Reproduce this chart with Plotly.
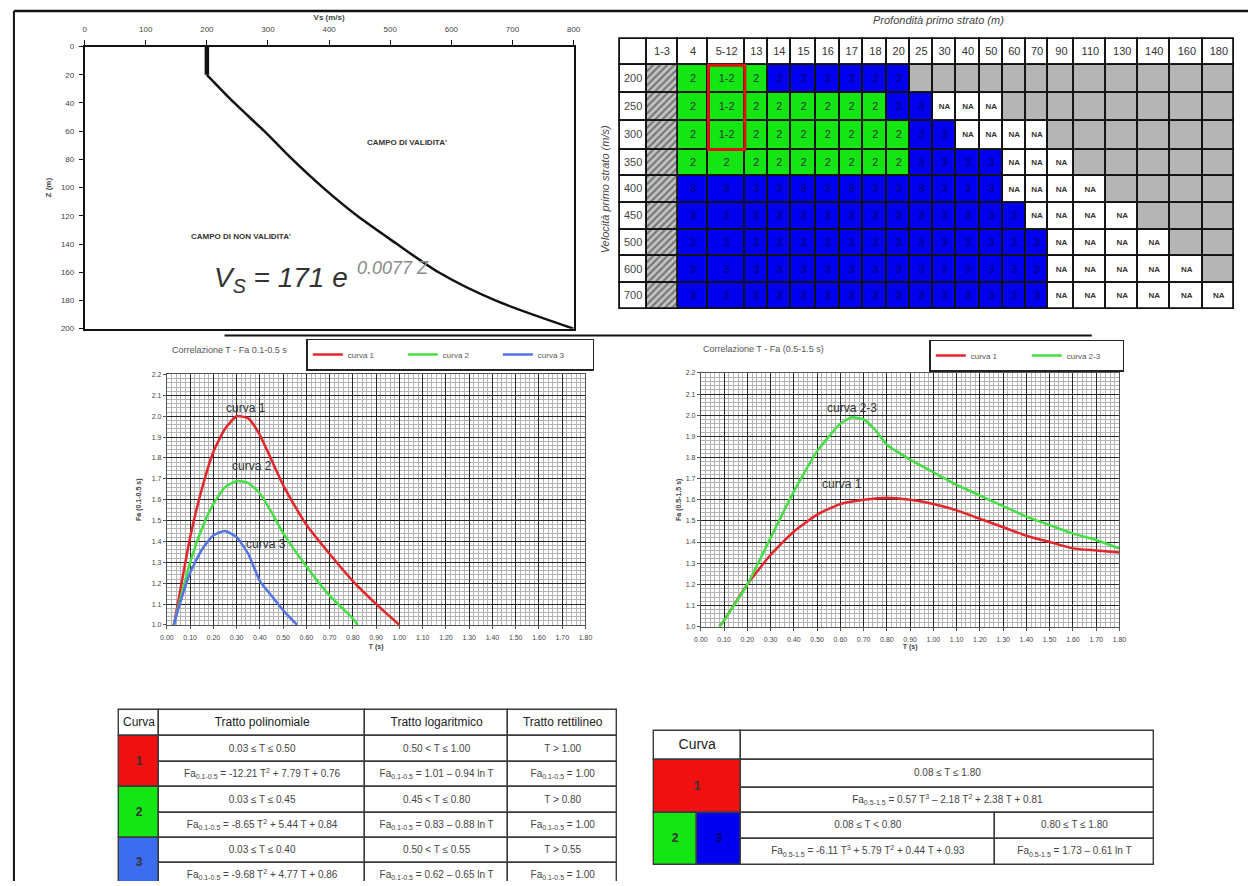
import plotly.graph_objects as go

W, H = 1255, 886
FONT = "Liberation Sans, Arial, sans-serif"

# ============================ DATA ============================
# Vs - Z profile (top-left chart)
z_const = [0, 20]
vs_const = [200, 200]
z_curve = [20, 40, 60, 80, 100, 120, 140, 160, 180, 200]
vs_curve = [200, 245, 294, 340, 390, 446, 511, 579, 672, 800]

# Correlazione T - Fa 0.1-0.5 s (bottom-left chart)
t_c1 = [0.03, 0.05, 0.10, 0.15, 0.20, 0.25, 0.30, 0.35, 0.40, 0.45, 0.50, 0.55, 0.60, 0.70, 0.80, 0.90, 1.00]
fa_c1 = [1.00, 1.12, 1.42, 1.65, 1.83, 1.94, 2.00, 1.99, 1.91, 1.79, 1.67, 1.57, 1.48, 1.34, 1.21, 1.10, 1.00]
t_c2 = [0.03, 0.05, 0.10, 0.15, 0.20, 0.25, 0.30, 0.35, 0.40, 0.45, 0.50, 0.60, 0.70, 0.80, 0.82]
fa_c2 = [1.00, 1.09, 1.30, 1.46, 1.58, 1.66, 1.69, 1.68, 1.63, 1.54, 1.44, 1.28, 1.14, 1.03, 1.00]
t_c3 = [0.03, 0.05, 0.10, 0.15, 0.20, 0.25, 0.30, 0.35, 0.40, 0.45, 0.50, 0.56]
fa_c3 = [1.00, 1.08, 1.25, 1.36, 1.43, 1.45, 1.42, 1.34, 1.21, 1.14, 1.07, 1.00]

# Correlazione T - Fa (0.5-1.5 s) (bottom-right chart)
t_r1 = [0.08, 0.10, 0.20, 0.30, 0.40, 0.50, 0.60, 0.70, 0.80, 0.90, 1.00, 1.10, 1.20, 1.30, 1.40, 1.50, 1.60, 1.70, 1.80]
fa_r1 = [1.00, 1.03, 1.20, 1.34, 1.45, 1.53, 1.58, 1.60, 1.61, 1.60, 1.58, 1.55, 1.51, 1.47, 1.43, 1.40, 1.37, 1.36, 1.35]
t_r23 = [0.08, 0.10, 0.20, 0.30, 0.40, 0.50, 0.60, 0.65, 0.70, 0.75, 0.80, 0.90, 1.00, 1.10, 1.20, 1.30, 1.40, 1.50, 1.60, 1.70, 1.80]
fa_r23 = [1.00, 1.03, 1.20, 1.42, 1.64, 1.83, 1.96, 1.99, 1.98, 1.93, 1.86, 1.79, 1.73, 1.67, 1.62, 1.57, 1.52, 1.48, 1.44, 1.41, 1.37]

# Top-right table: depth columns, velocity rows, zone per cell (columns "4" ... "180")
depth_cols = ["1-3", "4", "5-12", "13", "14", "15", "16", "17", "18", "20", "25", "30",
              "40", "50", "60", "70", "90", "110", "130", "140", "160", "180"]
vel_rows = ["200", "250", "300", "350", "400", "450", "500", "600", "700"]
zones_200 = ["2", "1-2", "2", "3", "3", "3", "3", "3", "3", "X", "X", "X", "X", "X", "X", "X", "X", "X", "X", "X", "X"]
zones_250 = ["2", "1-2", "2", "2", "2", "2", "2", "2", "3", "3", "NA", "NA", "NA", "X", "X", "X", "X", "X", "X", "X", "X"]
zones_300 = ["2", "1-2", "2", "2", "2", "2", "2", "2", "2", "3", "3", "NA", "NA", "NA", "NA", "X", "X", "X", "X", "X", "X"]
zones_350 = ["2", "2", "2", "2", "2", "2", "2", "2", "2", "3", "3", "3", "3", "NA", "NA", "NA", "X", "X", "X", "X", "X"]
zones_400 = ["3", "3", "3", "3", "3", "3", "3", "3", "3", "3", "3", "3", "3", "NA", "NA", "NA", "NA", "X", "X", "X", "X"]
zones_450 = ["3", "3", "3", "3", "3", "3", "3", "3", "3", "3", "3", "3", "3", "3", "NA", "NA", "NA", "NA", "X", "X", "X"]
zones_500 = ["3", "3", "3", "3", "3", "3", "3", "3", "3", "3", "3", "3", "3", "3", "3", "NA", "NA", "NA", "NA", "X", "X"]
zones_600 = ["3", "3", "3", "3", "3", "3", "3", "3", "3", "3", "3", "3", "3", "3", "3", "NA", "NA", "NA", "NA", "NA", "X"]
zones_700 = ["3", "3", "3", "3", "3", "3", "3", "3", "3", "3", "3", "3", "3", "3", "3", "NA", "NA", "NA", "NA", "NA", "NA"]
zone_rows = [zones_200, zones_250, zones_300, zones_350, zones_400, zones_450, zones_500, zones_600, zones_700]

# Bottom-left table
tab1_headers = ["Curva", "Tratto polinomiale", "Tratto logaritmico", "Tratto rettilineo"]
curve_ids = ["1", "2", "3"]
poly_range = ["0.03 ≤ T ≤ 0.50", "0.03 ≤ T ≤ 0.45", "0.03 ≤ T ≤ 0.40"]
poly_eq = ["-12.21 T<sup>2</sup> + 7.79 T + 0.76", "-8.65 T<sup>2</sup> + 5.44 T + 0.84", "-9.68 T<sup>2</sup> + 4.77 T + 0.86"]
log_range = ["0.50 < T ≤ 1.00", "0.45 < T ≤ 0.80", "0.50 < T ≤ 0.55"]
log_eq = ["1.01 – 0.94 ln T", "0.83 – 0.88 ln T", "0.62 – 0.65 ln T"]
lin_range = ["T > 1.00", "T > 0.80", "T > 0.55"]
lin_eq = ["1.00", "1.00", "1.00"]

# Bottom-right table
range_c1 = "0.08 ≤ T ≤ 1.80"
eq_c1 = "0.57 T<sup>3</sup> – 2.18 T<sup>2</sup> + 2.38 T + 0.81"
range_c23 = ["0.08 ≤ T < 0.80", "0.80 ≤ T ≤ 1.80"]
eq_c23 = ["-6.11 T<sup>3</sup> + 5.79 T<sup>2</sup> + 0.44 T + 0.93", "1.73 – 0.61 ln T"]

# ============================ STYLE / LAYOUT ============================
RED, GREEN, BLUE = "#e3262b", "#45df45", "#5574e3"
T_GREEN, T_BLUE, T_GRAY, T_RED = "#14e614", "#0000ee", "#b5b5b5", "#f01010"
TAB_BLUE2 = "#3c6cf0"

# pixel geometry of the top-right table
col_edges = [619.6, 646.8, 678.1, 709.4, 746.2, 769.2, 793.0, 818.0, 842.3, 866.1, 890.3, 913.3,
             936.3, 960.1, 983.5, 1007.3, 1030.2, 1053.2, 1079.5, 1111.7, 1143.9, 1176.4, 1209.9, 1241.2]
row_edges = [35, 62, 90, 118, 147, 174, 201, 228, 255, 282, 308]
# bottom-left table geometry
t1x = [113, 154, 362, 507, 617]
t1y = [713, 740, 766, 791.5, 817, 842.5, 868, 893.5]
# bottom-right table geometry
t2x = [654, 697.5, 742, 999, 1160]
t2y = [734.3, 764, 791.7, 817.5, 843.3, 870]


def xd(a, b):
    return [a / W, b / W]


def yd(top, bottom):
    return [1 - bottom / H, 1 - top / H]


fig = go.Figure()

# ---------------- top-left chart ----------------
fig.add_trace(go.Scatter(x=vs_const, y=z_const, mode="lines", line=dict(color="#111", width=4.5),
                         xaxis="x", yaxis="y", showlegend=False, hoverinfo="skip"))
fig.add_trace(go.Scatter(x=vs_curve, y=z_curve, mode="lines",
                         line=dict(color="#111", width=2.5, shape="spline", smoothing=0.8),
                         xaxis="x", yaxis="y", showlegend=False, hoverinfo="skip"))

# ---------------- bottom-left chart ----------------
for t, fa, nm, c in [(t_c1, fa_c1, "curva 1", RED), (t_c2, fa_c2, "curva 2", GREEN), (t_c3, fa_c3, "curva 3", BLUE)]:
    fig.add_trace(go.Scatter(x=t, y=fa, mode="lines", name=nm,
                             line=dict(color=c, width=2.5, shape="spline", smoothing=0.5),
                             xaxis="x2", yaxis="y2", legend="legend"))

# ---------------- bottom-right chart ----------------
for t, fa, nm, c in [(t_r1, fa_r1, "curva 1", RED), (t_r23, fa_r23, "curva 2-3", GREEN)]:
    fig.add_trace(go.Scatter(x=t, y=fa, mode="lines", name=nm,
                             line=dict(color=c, width=2.5, shape="spline", smoothing=0.45),
                             xaxis="x3", yaxis="y3", legend="legend2"))

# ---------------- tables (pixel overlay axis x4/y4) ----------------
cells_a = []   # top table
cells_b = []   # bottom tables
hatch = []
texts = []


def cell(lst, x0, x1, y0, y1, fill):
    lst.append((x0, x1, y0, y1, fill))


def txt(x, y, s, size, color, weight="normal"):
    texts.append((x, y, s, size, color, weight))


# top table header
cell(cells_a, col_edges[0], col_edges[1], row_edges[0], row_edges[1], "white")
for j, lab in enumerate(depth_cols):
    x0, x1 = col_edges[j + 1], col_edges[j + 2]
    cell(cells_a, x0, x1, row_edges[0], row_edges[1], "white")
    txt((x0 + x1) / 2, (row_edges[0] + row_edges[1]) / 2, lab, 11, "#333")
zone_fill = {"2": T_GREEN, "1-2": T_GREEN, "3": T_BLUE, "NA": "white", "X": T_GRAY}
zone_txt = {"2": ("2", 11, "#333", "normal"), "1-2": ("1-2", 11, "#333", "normal"),
            "3": ("3", 11, "#00006a", "normal"), "NA": ("NA", 8, "#333", "bold"), "X": ("", 8, "#333", "normal")}
for i, (vlab, zones) in enumerate(zip(vel_rows, zone_rows)):
    y0, y1 = row_edges[i + 1], row_edges[i + 2]
    ym = (y0 + y1) / 2
    cell(cells_a, col_edges[0], col_edges[1], y0, y1, "white")
    txt((col_edges[0] + col_edges[1]) / 2, ym, vlab, 11, "#444")
    hatch.append((col_edges[1], col_edges[2], y0, y1))
    for j, z in enumerate(zones):
        x0, x1 = col_edges[j + 2], col_edges[j + 3]
        cell(cells_a, x0, x1, y0, y1, zone_fill[z])
        s, sz, c, wt = zone_txt[z]
        if s:
            txt((x0 + x1) / 2, ym, s, sz, c, wt)

# bottom-left table
for k, hd in enumerate(tab1_headers):
    cell(cells_b, t1x[k], t1x[k + 1], t1y[0], t1y[1], "white")
    txt((t1x[k] + t1x[k + 1]) / 2, (t1y[0] + t1y[1]) / 2, hd, 12, "#222")
sub1 = "Fa<sub>0.1-0.5</sub> = "
for i, cid in enumerate(curve_ids):
    ya, yb, yc = t1y[1 + 2 * i], t1y[2 + 2 * i], t1y[3 + 2 * i]
    cell(cells_b, t1x[0], t1x[1], ya, yc, [T_RED, T_GREEN, TAB_BLUE2][i])
    txt((t1x[0] + t1x[1]) / 2, (ya + yc) / 2, cid, 12, "#333", "bold")
    rng = [poly_range[i], log_range[i], lin_range[i]]
    eqs = [poly_eq[i], log_eq[i], lin_eq[i]]
    for k in range(3):
        xa, xb = t1x[k + 1], t1x[k + 2]
        cell(cells_b, xa, xb, ya, yb, "white")
        cell(cells_b, xa, xb, yb, yc, "white")
        txt((xa + xb) / 2, (ya + yb) / 2, rng[k], 10, "#444")
        txt((xa + xb) / 2, (yb + yc) / 2, sub1 + eqs[k], 10, "#444")

# bottom-right table
sub2 = "Fa<sub>0.5-1.5</sub> = "
cell(cells_b, t2x[0], t2x[2], t2y[0], t2y[1], "white")
txt((t2x[0] + t2x[2]) / 2, (t2y[0] + t2y[1]) / 2, "Curva", 14, "#222")
cell(cells_b, t2x[2], t2x[4], t2y[0], t2y[1], "white")
cell(cells_b, t2x[0], t2x[2], t2y[1], t2y[3], T_RED)
txt((t2x[0] + t2x[2]) / 2, (t2y[1] + t2y[3]) / 2, "1", 12, "#333", "bold")
cell(cells_b, t2x[0], t2x[1], t2y[3], t2y[5], T_GREEN)
txt((t2x[0] + t2x[1]) / 2, (t2y[3] + t2y[5]) / 2, "2", 12, "#333", "bold")
cell(cells_b, t2x[1], t2x[2], t2y[3], t2y[5], T_BLUE)
txt((t2x[1] + t2x[2]) / 2, (t2y[3] + t2y[5]) / 2, "3", 12, "#00006a", "bold")
cell(cells_b, t2x[2], t2x[4], t2y[1], t2y[2], "white")
txt((t2x[2] + t2x[4]) / 2, (t2y[1] + t2y[2]) / 2, range_c1, 10, "#444")
cell(cells_b, t2x[2], t2x[4], t2y[2], t2y[3], "white")
txt((t2x[2] + t2x[4]) / 2, (t2y[2] + t2y[3]) / 2, sub2 + eq_c1, 10, "#444")
for k in range(2):
    xa, xb = t2x[2 + k], t2x[3 + k]
    cell(cells_b, xa, xb, t2y[3], t2y[4], "white")
    txt((xa + xb) / 2, (t2y[3] + t2y[4]) / 2, range_c23[k], 10, "#444")
    cell(cells_b, xa, xb, t2y[4], t2y[5], "white")
    txt((xa + xb) / 2, (t2y[4] + t2y[5]) / 2, sub2 + eq_c23[k], 10, "#444")


def bar_from(lst, line_color, line_width, **kw):
    return go.Bar(x=[(c[0] + c[1]) / 2 for c in lst], width=[c[1] - c[0] for c in lst],
                  base=[c[2] for c in lst], y=[c[3] - c[2] for c in lst],
                  marker=dict(line=dict(color=line_color, width=line_width), **kw),
                  xaxis="x4", yaxis="y4", showlegend=False, hoverinfo="skip")


fig.add_trace(bar_from(cells_b, "#3a3a3a", 1.4, color=[c[4] for c in cells_b]))
fig.add_trace(bar_from(cells_a, "#111", 1.8, color=[c[4] for c in cells_a]))
fig.add_trace(bar_from([(h[0], h[1], h[2], h[3], "") for h in hatch], "#111", 1.8, color="#c4c4c4",
                       pattern=dict(shape="/", fgcolor="#2a2a2a", bgcolor="#c4c4c4", size=5, solidity=0.45)))
fig.add_trace(go.Scatter(x=[t[0] for t in texts], y=[t[1] for t in texts], text=[t[2] for t in texts],
                         mode="text", textposition="middle center",
                         textfont=dict(family=FONT, size=[t[3] for t in texts], color=[t[4] for t in texts],
                                       weight=[t[5] for t in texts]),
                         xaxis="x4", yaxis="y4", showlegend=False, hoverinfo="skip", cliponaxis=False))

# ---------------- layout ----------------
tickf = dict(size=8, color="#444", family=FONT)
grid_x = dict(range=[0, 1.8], dtick=0.1, tick0=0, tickformat=".2f", showgrid=True, gridcolor="#262626",
              gridwidth=1.2, zeroline=False, showline=True, mirror=True, linecolor="#555", linewidth=1,
              ticks="outside", ticklen=3, tickcolor="#555", tickfont=dict(size=7, color="#444", family=FONT),
              ticklabelstandoff=3,
              minor=dict(dtick=0.02, showgrid=True, gridcolor="#b4b4b4", gridwidth=0.6), fixedrange=True)
grid_y = dict(range=[1.0, 2.2], dtick=0.1, tick0=1.0, tickformat=".1f", showgrid=True, gridcolor="#262626",
              gridwidth=1.2, zeroline=False, showline=True, mirror=True, linecolor="#555", linewidth=1,
              ticks="outside", ticklen=3, tickcolor="#555", tickfont=dict(size=7, color="#444", family=FONT),
              minor=dict(dtick=0.02, showgrid=True, gridcolor="#b4b4b4", gridwidth=0.6), fixedrange=True)

fig.update_layout(
    width=W, height=H, margin=dict(l=0, r=0, t=0, b=0),
    paper_bgcolor="white", plot_bgcolor="rgba(0,0,0,0)",
    barmode="overlay", bargap=0,
    font=dict(family=FONT, color="#333"),
    xaxis=dict(domain=xd(78.5, 573), range=[0, 800], side="top", dtick=100, tick0=0, showgrid=False,
               zeroline=False, showline=True, mirror=True, linecolor="#111", linewidth=1.5,
               ticks="outside", ticklen=5, tickcolor="#111", tickfont=tickf, anchor="y", fixedrange=True,
               ticklabelstandoff=5,
               title=dict(text="<b>Vs (m/s)</b>", font=dict(size=8, color="#444"), standoff=3)),
    yaxis=dict(domain=yd(43, 328), range=[200, 0], dtick=20, tick0=0, showgrid=False, zeroline=False,
               showline=True, mirror=True, linecolor="#111", linewidth=1.5, ticks="outside", ticklen=4,
               tickcolor="#111", tickfont=tickf, anchor="x", fixedrange=True, ticklabelstandoff=3,
               title=dict(text="<b>Z (m)</b>", font=dict(size=8, color="#444"), standoff=8)),
    xaxis2=dict(domain=xd(161.7, 585), anchor="y2",
                title=dict(text="<b>T (s)</b>", font=dict(size=7, color="#444"), standoff=3), **grid_x),
    yaxis2=dict(domain=yd(374.3, 627.3), anchor="x2",
                title=dict(text="<b>Fa (0.1-0.5 s)</b>", font=dict(size=7, color="#444"), standoff=9), **grid_y),
    xaxis3=dict(domain=xd(701.7, 1125), anchor="y3",
                title=dict(text="<b>T (s)</b>", font=dict(size=7, color="#444"), standoff=1), **grid_x),
    yaxis3=dict(domain=yd(372.7, 629), anchor="x3",
                title=dict(text="<b>Fa (0.5-1.5 s)</b>", font=dict(size=7, color="#444"), standoff=3), **grid_y),
    xaxis4=dict(domain=[0, 1], range=[0, W], visible=False, fixedrange=True, anchor="y4"),
    yaxis4=dict(domain=[0, 1], range=[H, 0], visible=False, fixedrange=True, anchor="x4"),
    legend=dict(x=302.7 / W, y=1 - 338 / H, xanchor="left", yanchor="top", orientation="h",
                bordercolor="#222", borderwidth=1.5, bgcolor="white",
                font=dict(size=8, color="#555", family=FONT), entrywidth=50, entrywidthmode="pixels",
                itemwidth=30, tracegroupgap=0),
    legend2=dict(x=932.7 / W, y=1 - 339 / H, xanchor="left", yanchor="top", orientation="h",
                 bordercolor="#222", borderwidth=1.5, bgcolor="white",
                 font=dict(size=8, color="#555", family=FONT), entrywidth=51, entrywidthmode="pixels",
                 itemwidth=30, tracegroupgap=0),
)

ann = []
# top-left chart texts
ann.append(dict(x=528, y=68, xref="x", yref="y", text="<b>CAMPO DI VALIDITA'</b>", showarrow=False,
                font=dict(size=8, color="#333")))
ann.append(dict(x=256, y=134.7, xref="x", yref="y", text="<b>CAMPO DI NON VALIDITA'</b>", showarrow=False,
                font=dict(size=8, color="#333")))
ann.append(dict(x=434, y=165, xref="x", yref="y", xanchor="right", text="<i>V<sub>S</sub> = 171 e</i>",
                showarrow=False, font=dict(size=28, color="#333")))
ann.append(dict(x=442, y=157, xref="x", yref="y", xanchor="left", text="<i>0.0077 Z</i>",
                showarrow=False, font=dict(size=18, color="#8a8a8a")))
# bottom chart titles and curve labels
ann.append(dict(x=165 / W, y=1 - 350 / H, xref="paper", yref="paper", xanchor="left", yanchor="middle",
                text="Correlazione T - Fa 0.1-0.5 s", showarrow=False, font=dict(size=9, color="#555")))
ann.append(dict(x=701.7 / W, y=1 - 349 / H, xref="paper", yref="paper", xanchor="left", yanchor="middle",
                text="Correlazione T - Fa (0.5-1.5 s)", showarrow=False, font=dict(size=9, color="#555")))
for xx, yy, s, ax in [(0.34, 2.04, "curva 1", "2"), (0.364, 1.762, "curva 2", "2"), (0.425, 1.387, "curva 3", "2"),
                      (0.652, 2.035, "curva 2-3", "3"), (0.609, 1.674, "curva 1", "3")]:
    ann.append(dict(x=xx, y=yy, xref="x" + ax, yref="y" + ax, text=s, showarrow=False,
                    font=dict(size=12, color="#333")))
# top-right table titles
ann.append(dict(x=942, y=16, xref="x4", yref="y4", text="<i>Profondità primo strato (m)</i>", showarrow=False,
                font=dict(size=11, color="#444")))
ann.append(dict(x=605, y=187, xref="x4", yref="y4", text="<i>Velocità primo strato (m/s)</i>", showarrow=False,
                textangle=-90, font=dict(size=11, color="#444")))
fig.update_layout(annotations=ann)

shapes = [
    dict(type="line", xref="paper", yref="paper", x0=7 / W, x1=7 / W, y0=0, y1=1 - 7 / H,
         line=dict(color="#111", width=2)),
    dict(type="line", xref="paper", yref="paper", x0=7 / W, x1=1, y0=1 - 7 / H, y1=1 - 7 / H,
         line=dict(color="#111", width=2.5)),
    dict(type="line", xref="x4", yref="y4", x0=220, x1=1097, y0=335, y1=335, line=dict(color="#111", width=2)),
    dict(type="rect", xref="x4", yref="y4", x0=col_edges[3], x1=col_edges[4], y0=row_edges[1], y1=row_edges[4],
         line=dict(color="#e01010", width=3)),
]
fig.update_layout(shapes=shapes)

fig.write_html("out.html")
